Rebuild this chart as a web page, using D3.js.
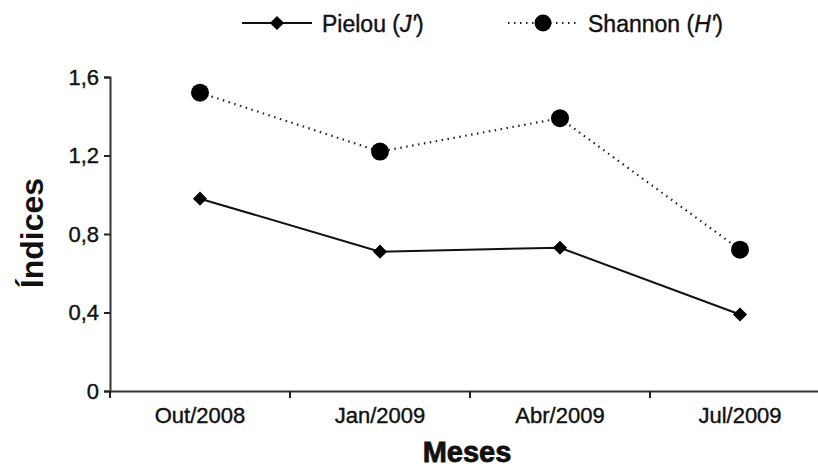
<!DOCTYPE html>
<html>
<head>
<meta charset="utf-8">
<script src="https://cdn.jsdelivr.net/npm/d3@7"></script>
<style>
  body { margin: 0; background: #fff; }
  text { font-family: "Liberation Sans", Arial, sans-serif; fill: #111; }
</style>
</head>
<body>
<svg id="chart" width="818" height="470"></svg>
<script>
// data
const months = ["Out/2008", "Jan/2009", "Abr/2009", "Jul/2009"];
const pielou = [0.98, 0.71, 0.73, 0.39];
const shannon = [1.52, 1.22, 1.39, 0.72];
const yTicks = [0, 0.4, 0.8, 1.2, 1.6];

const margin = {top: 77, right: -12, bottom: 79, left: 110};
const width = 818 - margin.left - margin.right;
const height = 470 - margin.top - margin.bottom;

const svg = d3.select("#chart");
const g = svg.append("g")
    .attr("transform", `translate(${margin.left},${margin.top})`);

const x = d3.scaleBand().domain(months).range([0, width]);
const y = d3.scaleLinear().domain([0, 1.6]).range([height, 0]);

const fmt = d => d === 0 ? "0" : d.toFixed(1).replace(".", ",");

// axes
const yAxis = g.append("g")
    .call(d3.axisLeft(y).tickValues(yTicks).tickFormat(fmt).tickSize(6).tickPadding(5));
const xAxis = g.append("g")
    .attr("transform", `translate(0,${height})`)
    .call(d3.axisBottom(x).tickSize(0).tickPadding(16));

// x ticks sit between the months
xAxis.selectAll(".sep")
    .data(months)
    .enter().append("line")
    .attr("class", "sep")
    .attr("x1", d => x(d)).attr("x2", d => x(d))
    .attr("y1", 0).attr("y2", 7)
    .attr("stroke", "#222").attr("stroke-width", 2);

[yAxis, xAxis].forEach(a => {
    a.select(".domain").attr("stroke", "#333").attr("stroke-width", 2);
    a.selectAll(".tick line").attr("stroke", "#222").attr("stroke-width", 2);
    a.selectAll("text").style("font-size", "22px").attr("fill", "#111")
        .attr("stroke", "#111").attr("stroke-width", 0.4);
});

const cx = d => x(d) + x.bandwidth() / 2;

const line = d3.line().x(d => cx(d.m)).y(d => y(d.v));
const sData = months.map((m, i) => ({m, v: shannon[i]}));
const pData = months.map((m, i) => ({m, v: pielou[i]}));

// Shannon (dotted + circles)
g.append("path").datum(sData)
    .attr("d", line)
    .attr("fill", "none").attr("stroke", "#222")
    .attr("stroke-width", 2.2).attr("stroke-dasharray", "1.5,4.5");
g.selectAll(".sdot").data(sData).enter().append("circle")
    .attr("cx", d => cx(d.m)).attr("cy", d => y(d.v))
    .attr("r", 9).attr("fill", "#000");

// Pielou (solid + diamonds)
const diamond = d3.symbol().type(d3.symbolSquare).size(100);
g.append("path").datum(pData)
    .attr("d", line)
    .attr("fill", "none").attr("stroke", "#111").attr("stroke-width", 2);
g.selectAll(".pdot").data(pData).enter().append("path")
    .attr("transform", d => `translate(${cx(d.m)},${y(d.v)}) rotate(45)`)
    .attr("d", diamond)
    .attr("fill", "#000");

// axis titles
svg.append("text")
    .attr("transform", "translate(43,233) rotate(-90)")
    .attr("text-anchor", "middle")
    .style("font-size", "32px").style("font-weight", "bold")
    .text("Índices");
svg.append("text")
    .attr("x", 467).attr("y", 462)
    .attr("text-anchor", "middle")
    .style("font-size", "29px").style("font-weight", "bold")
    .attr("stroke", "#111").attr("stroke-width", 0.8)
    .text("Meses");

// legend
const lg = svg.append("g");
lg.append("line").attr("x1", 242).attr("x2", 312).attr("y1", 23).attr("y2", 23)
    .attr("stroke", "#111").attr("stroke-width", 2);
lg.append("path").attr("transform", "translate(277,23) rotate(45)")
    .attr("d", diamond).attr("fill", "#000");
const t1 = lg.append("text").attr("x", 322).attr("y", 32).style("font-size", "23px")
    .attr("stroke", "#111").attr("stroke-width", 0.4);
t1.append("tspan").text("Pielou (");
t1.append("tspan").style("font-style", "italic").text("J'");
t1.append("tspan").text(")");

lg.append("line").attr("x1", 508).attr("x2", 577).attr("y1", 23).attr("y2", 23)
    .attr("stroke", "#222").attr("stroke-width", 2.2).attr("stroke-dasharray", "1.5,4.5");
lg.append("circle").attr("cx", 543).attr("cy", 23).attr("r", 8.5).attr("fill", "#000");
const t2 = lg.append("text").attr("x", 588).attr("y", 32).style("font-size", "23px")
    .attr("stroke", "#111").attr("stroke-width", 0.4);
t2.append("tspan").text("Shannon (");
t2.append("tspan").style("font-style", "italic").text("H'");
t2.append("tspan").text(")");
</script>
</body>
</html>
